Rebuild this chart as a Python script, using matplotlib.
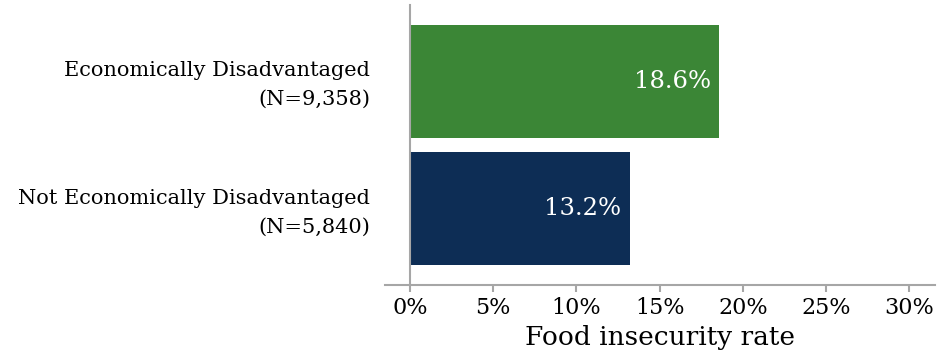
import matplotlib
matplotlib.use("Agg")
import matplotlib.pyplot as plt

# Data
categories = ["Not Economically Disadvantaged\n(N=5,840)",
              "Economically Disadvantaged\n(N=9,358)"]
rates = [13.2, 18.6]
bar_colors = ["#0D2D55", "#3B8636"]
tick_values = [0, 5, 10, 15, 20, 25, 30]
tick_labels = ["0%", "5%", "10%", "15%", "20%", "25%", "30%"]

plt.rcParams["font.family"] = ["DejaVu Serif"]

fig = plt.figure(figsize=(9.47, 3.55), dpi=100)
ax = fig.add_axes([385 / 947, 1 - 285 / 355, 550 / 947, 280 / 355])

ypos = list(range(len(categories)))
ax.barh(ypos, rates, height=0.89, color=bar_colors)

for y, v in zip(ypos, rates):
    ax.text(v - 0.5, y, f"{v}%", color="white", ha="right", va="center",
            fontsize=17.5)

ax.set_xlim(-1.5, 31.55)
ax.set_ylim(-0.6, 1.6)

# category labels, right-aligned to the left of the axes
ax.set_yticks(ypos)
ax.set_yticklabels([])
ax.tick_params(axis="y", length=0)
for y, name in zip(ypos, categories):
    ax.text(-0.027, y - 0.03, name, transform=ax.get_yaxis_transform(),
            ha="right", va="center", fontsize=15, linespacing=1.65,
            multialignment="right")

ax.tick_params(axis="x", length=5, width=1.5, color="#A6A6A6", pad=4,
               labelsize=16)
ax.set_xticks(tick_values)
ax.set_xticklabels(tick_labels)
ax.set_xlabel("Food insecurity rate", fontsize=19, labelpad=4)

for side in ["top", "right"]:
    ax.spines[side].set_visible(False)
ax.spines["left"].set_position(("data", 0))
ax.spines["left"].set_color("#A6A6A6")
ax.spines["left"].set_linewidth(1.5)
ax.spines["bottom"].set_color("#A6A6A6")
ax.spines["bottom"].set_linewidth(1.5)

fig.savefig("out.png", dpi=100)
